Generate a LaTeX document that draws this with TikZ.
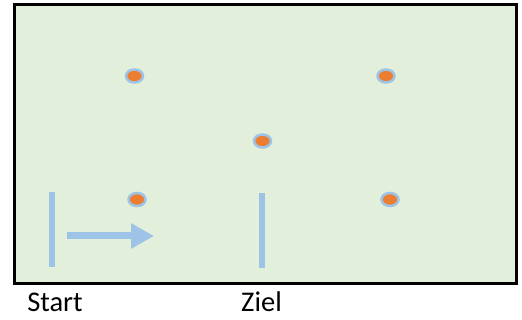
\documentclass[tikz,border=0pt]{standalone}
\usepackage{fontspec}
\setmainfont{Carlito}
\usetikzlibrary{arrows.meta,shapes.geometric}
\definecolor{bggreen}{HTML}{E2EFDA}
\definecolor{lblue}{HTML}{9DC3E6}
\definecolor{dorange}{HTML}{ED7D31}
\tikzset{
  dot/.style={ellipse,fill=dorange,draw=lblue,line width=2.5pt,minimum width=17pt,minimum height=13pt,inner sep=0pt},
  bar/.style={draw=lblue,line width=6pt},
  label/.style={font=\fontsize{28.5}{31}\selectfont,inner sep=0pt,anchor=base}
}
\begin{document}
\begin{tikzpicture}[x=1pt,y=-1pt]
\useasboundingbox (0,0) rectangle (522,320);
\draw[line width=3pt,fill=bggreen] (14,5) rectangle (516,284);
\node[dot] (d1) at (134.5,76) {};
\node[dot] (d2) at (386,76) {};
\node[dot] (d3) at (262.5,141) {};
\node[dot] (d4) at (137,199.5) {};
\node[dot] (d5) at (390,199.5) {};
\coordinate (s1) at (52,192);
\coordinate (s2) at (52,267);
\coordinate (z1) at (262,193);
\coordinate (z2) at (262,268);
\draw[bar] (s1) -- (s2);
\draw[bar] (z1) -- (z2);
\coordinate (a1) at (67,236);
\coordinate (a2) at (154,236);
\draw[draw=lblue,line width=7pt,-{Triangle[length=23pt,width=24pt,fill=lblue]}] (a1) -- (a2);
\node[label] (start) at (55,312) {Start};
\node[label] (ziel) at (261.5,312) {Ziel};
\end{tikzpicture}
\end{document}
